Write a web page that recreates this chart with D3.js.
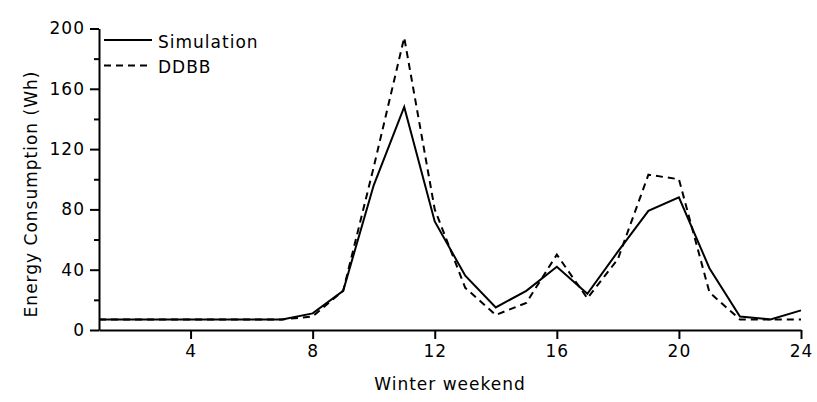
<!DOCTYPE html>
<html lang="en">
<head>
  <meta charset="UTF-8">
  <title>Winter weekend energy</title>
  <script src="https://d3js.org/d3.v7.min.js"></script>
  <style>
    body { margin: 0; background: #fff; }
    text { font-family: "DejaVu Sans", sans-serif; fill: #000; letter-spacing: 1px; }
  </style>
</head>
<body>
  <div id="chart"></div>
  <script type="text/javascript">
    // hours of the winter weekend day
    var hours = d3.range(1, 25);
    var simulation = [7, 7, 7, 7, 7, 7, 7, 11, 26, 96, 148, 72, 36, 15, 26, 42, 24, 52, 79, 88, 41, 9, 7, 13];
    var ddbb = [7, 7, 7, 7, 7, 7, 7, 9, 26, 108, 194, 80, 28, 10, 18, 50, 21, 47, 103, 100, 25, 7, 7, 7];
    var xTicks = [4, 8, 12, 16, 20, 24];
    var yTicks = [0, 40, 80, 120, 160, 200];
    var yMinor = [20, 60, 100, 140, 180];

    var width = 817, height = 402;
    var margin = {left: 99, right: 16, top: 28.5, bottom: 72};

    var svg = d3.select("#chart").append("svg")
      .attr("width", width)
      .attr("height", height);

    var x = d3.scaleLinear().domain([1, 24]).range([margin.left, width - margin.right]);
    var y = d3.scaleLinear().domain([0, 200]).range([height - margin.bottom, margin.top]);

    // minor ticks on y first, so the main axis sits on top
    svg.append("g")
      .attr("transform", "translate(" + margin.left + ",0)")
      .call(d3.axisLeft(y).tickValues(yMinor).tickSize(5).tickFormat("").tickSizeOuter(0))
      .call(function (g) { g.select(".domain").remove(); });

    svg.append("g")
      .attr("transform", "translate(" + margin.left + ",0)")
      .call(d3.axisLeft(y).tickValues(yTicks).tickSize(9).tickPadding(5).tickSizeOuter(0));

    svg.append("g")
      .attr("transform", "translate(0," + y(0) + ")")
      .call(d3.axisBottom(x).tickValues(xTicks).tickSize(9).tickPadding(6).tickSizeOuter(0));

    svg.selectAll(".domain, .tick line")
      .attr("stroke", "#000")
      .attr("stroke-width", 2);
    svg.selectAll(".tick text")
      .style("font-size", "17px")
      .style("font-family", "DejaVu Sans, sans-serif")
      .attr("fill", "#000");

    // axis titles
    svg.append("text")
      .attr("x", (x(1) + x(24)) / 2)
      .attr("y", 390)
      .attr("text-anchor", "middle")
      .style("font-size", "17px")
      .text("Winter weekend");

    svg.append("text")
      .attr("transform", "translate(36.5,194) rotate(-90)")
      .attr("text-anchor", "middle")
      .style("font-size", "17px")
      .text("Energy Consumption (Wh)");

    var line = d3.line()
      .x(function (d, i) { return x(hours[i]); })
      .y(function (d) { return y(d); });

    svg.append("path")
      .datum(ddbb)
      .attr("fill", "none")
      .attr("stroke", "#000")
      .attr("stroke-width", 2)
      .attr("stroke-dasharray", "7,5")
      .attr("d", line);

    svg.append("path")
      .datum(simulation)
      .attr("fill", "none")
      .attr("stroke", "#000")
      .attr("stroke-width", 2)
      .attr("d", line);

    // legend
    var legend = svg.append("g");
    var items = [
      {name: "Simulation", dash: null, y: 40},
      {name: "DDBB", dash: "7,5", y: 65.5}
    ];
    items.forEach(function (d) {
      legend.append("line")
        .attr("x1", 104).attr("x2", 152)
        .attr("y1", d.y).attr("y2", d.y)
        .attr("stroke", "#000")
        .attr("stroke-width", 2)
        .attr("stroke-dasharray", d.dash);
      legend.append("text")
        .attr("x", 158)
        .attr("y", d.y + 7.5)
        .style("font-size", "17px")
        .text(d.name);
    });
  </script>
</body>
</html>
